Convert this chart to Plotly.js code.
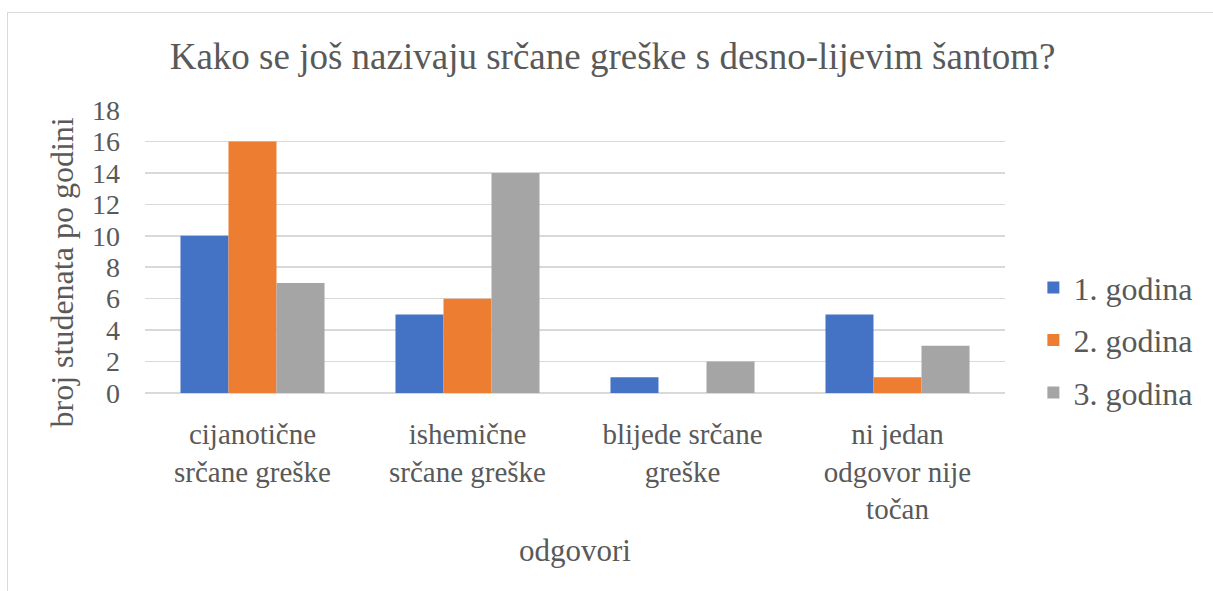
<!DOCTYPE html>
<html>
<head>
<meta charset="utf-8">
<script src="https://cdn.plot.ly/plotly-3.0.1.min.js"></script>
<style>
html,body{margin:0;padding:0;background:#fff;}
#wrap{position:relative;width:1213px;height:591px;overflow:hidden;}
#chart{position:absolute;left:0;top:0;width:1213px;height:591px;}
#frame{position:absolute;left:7px;top:12px;width:1220px;height:620px;border:1.5px solid #D9D9D9;pointer-events:none;}
</style>
</head>
<body>
<div id="wrap"><div id="chart"></div><div id="frame"></div></div>
<script>
const categories = ["cijanotične<br>srčane greške", "ishemične<br>srčane greške", "blijede srčane<br>greške", "ni jedan<br>odgovor nije<br>točan"];
const seriesNames = ["1. godina", "2. godina", "3. godina"];
const godina1 = [10, 5, 1, 5];
const godina2 = [16, 6, 0, 1];
const godina3 = [7, 14, 2, 3];
const colors = ["#4472C4", "#ED7D31", "#A5A5A5"];
const titleText = "Kako se još nazivaju srčane greške s desno-lijevim šantom?";
const yTitle = "broj studenata po godini";
const xTitle = "odgovori";
const yTicks = [0, 2, 4, 6, 8, 10, 12, 14, 16, 18];

const SERIF = "Liberation Serif";
const TXT = "#595959";
const values = [godina1, godina2, godina3];
const traces = values.map((v, i) => ({
  type: "bar",
  name: seriesNames[i],
  x: categories,
  y: v,
  marker: {color: colors[i], line: {width: 0}},
  legendgroup: "g" + i,
  hoverinfo: "y"
}));

const layout = {
  width: 1213, height: 591,
  margin: {l: 145, r: 208, t: 110, b: 198},
  paper_bgcolor: "rgba(0,0,0,0)", plot_bgcolor: "rgba(0,0,0,0)",
  font: {family: SERIF, color: TXT, size: 30},
  title: {text: titleText, font: {family: SERIF, size: 37, color: TXT}, x: 0.505, xanchor: "center", y: 0.905, yanchor: "middle"},
  barmode: "group",
  bargap: 0.33,
  bargroupgap: 0,
  xaxis: {
    showgrid: false, zeroline: false, showline: false, ticks: "",
    tickfont: {family: SERIF, size: 29, color: TXT},
    ticklabelstandoff: 21,
    automargin: false
  },
  yaxis: {
    range: [0, 18], tickvals: yTicks, ticktext: yTicks.map(String),
    showgrid: true, gridcolor: "#D9D9D9", gridwidth: 1.5,
    zeroline: true, zerolinecolor: "#D9D9D9", zerolinewidth: 1.5,
    showline: false, ticks: "", ticklen: 0,
    ticklabelstandoff: 24,
    tickfont: {family: SERIF, size: 28, color: TXT},
    automargin: false
  },
  annotations: [
    {
      x: 0.5, xref: "paper", y: 0, yref: "paper",
      text: xTitle, showarrow: false, xanchor: "center", yanchor: "middle",
      yshift: -157, font: {family: SERIF, size: 31, color: TXT}
    },
    {
      x: 0, xref: "paper", y: 0.5, yref: "paper",
      text: yTitle, showarrow: false, textangle: -90,
      xanchor: "center", yanchor: "middle",
      xshift: -84, yshift: -21,
      font: {family: SERIF, size: 32, color: TXT}
    }
  ],
  legend: {
    x: 1.033, xanchor: "left", y: 0.187, yanchor: "middle",
    font: {family: SERIF, size: 32, color: TXT},
    tracegroupgap: 8, traceorder: "grouped",
    itemwidth: 30, bgcolor: "rgba(0,0,0,0)"
  },
  showlegend: true
};

Plotly.newPlot("chart", traces, layout, {displayModeBar: false, staticPlot: true});
</script>
</body>
</html>
